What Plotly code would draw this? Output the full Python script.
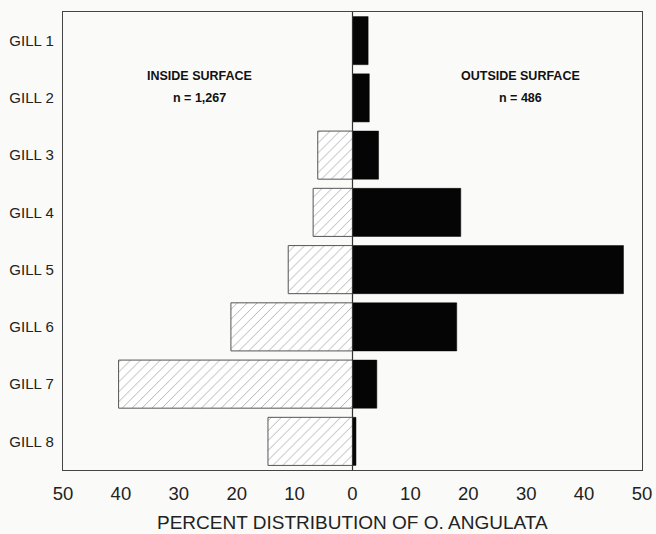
import plotly.graph_objects as go

gills = ["GILL 1", "GILL 2", "GILL 3", "GILL 4", "GILL 5", "GILL 6", "GILL 7", "GILL 8"]
inside_pct = [0.0, 0.0, 6.0, 6.8, 11.1, 21.0, 40.4, 14.6]
outside_pct = [2.7, 2.9, 4.5, 18.7, 46.8, 18.0, 4.2, 0.6]
x_tick_vals = [-50, -40, -30, -20, -10, 0, 10, 20, 30, 40, 50]
x_tick_text = ["50", "40", "30", "20", "10", "0", "10", "20", "30", "40", "50"]

FONT = "Liberation Sans, Arial, Helvetica, sans-serif"
BG = "#fafaf8"

fig = go.Figure()
fig.add_trace(go.Bar(
    y=gills, x=[-v for v in inside_pct], orientation="h", width=0.84,
    base=0,
    marker=dict(color="white", line=dict(color="#555", width=1),
                pattern=dict(shape="/", fgcolor="#666", bgcolor="white", size=7, solidity=0.14)),
    name="Inside surface", showlegend=False,
))
fig.add_trace(go.Bar(
    y=gills, x=outside_pct, orientation="h", width=0.84,
    marker=dict(color="#050505", line=dict(color="#050505", width=0.5)),
    name="Outside surface", showlegend=False,
))

fig.add_shape(type="line", xref="x", yref="paper", x0=0, x1=0, y0=0, y1=1,
              line=dict(color="#333", width=1.2))

annots = [
    dict(x=-26.5, y=0.881, text="<b>INSIDE SURFACE</b>"),
    dict(x=-26.5, y=0.831, text="<b>n = 1,267</b>"),
    dict(x=29.0, y=0.881, text="<b>OUTSIDE SURFACE</b>"),
    dict(x=29.0, y=0.831, text="<b>n = 486</b>"),
]
for a in annots:
    fig.add_annotation(x=a["x"], y=a["y"], xref="x", yref="paper", text=a["text"],
                       showarrow=False, font=dict(family=FONT, size=12.5, color="#111"))

fig.add_annotation(x=0.5, y=0, xref="paper", yref="paper", yshift=-52, yanchor="middle",
                   text="PERCENT DISTRIBUTION OF O. ANGULATA", showarrow=False,
                   font=dict(family=FONT, size=19, color="#222"))

fig.update_layout(
    width=656, height=534,
    margin=dict(l=63, r=14, t=12, b=64),
    paper_bgcolor=BG, plot_bgcolor=BG,
    barmode="overlay",
    font=dict(family=FONT, color="#222"),
)
fig.update_xaxes(range=[-50, 50], tickvals=x_tick_vals, ticktext=x_tick_text,
                 tickfont=dict(size=18.5, color="#222"), showgrid=False, zeroline=False,
                 showline=True, linecolor="#444", linewidth=1.3, mirror=True,
                 ticks="", ticklabelstandoff=7, ticklabeloverflow="allow",
                 automargin=False, fixedrange=True)
fig.update_yaxes(autorange="reversed", tickfont=dict(size=15, color="#222"),
                 showgrid=False, zeroline=False, showline=True, linecolor="#444",
                 linewidth=1.3, mirror=True, ticks="", ticklabelstandoff=5,
                 automargin=False, fixedrange=True)

fig.write_html("out.html", config={"displayModeBar": False},
               post_script="document.body.style.margin='0';document.body.style.overflow='hidden';")
